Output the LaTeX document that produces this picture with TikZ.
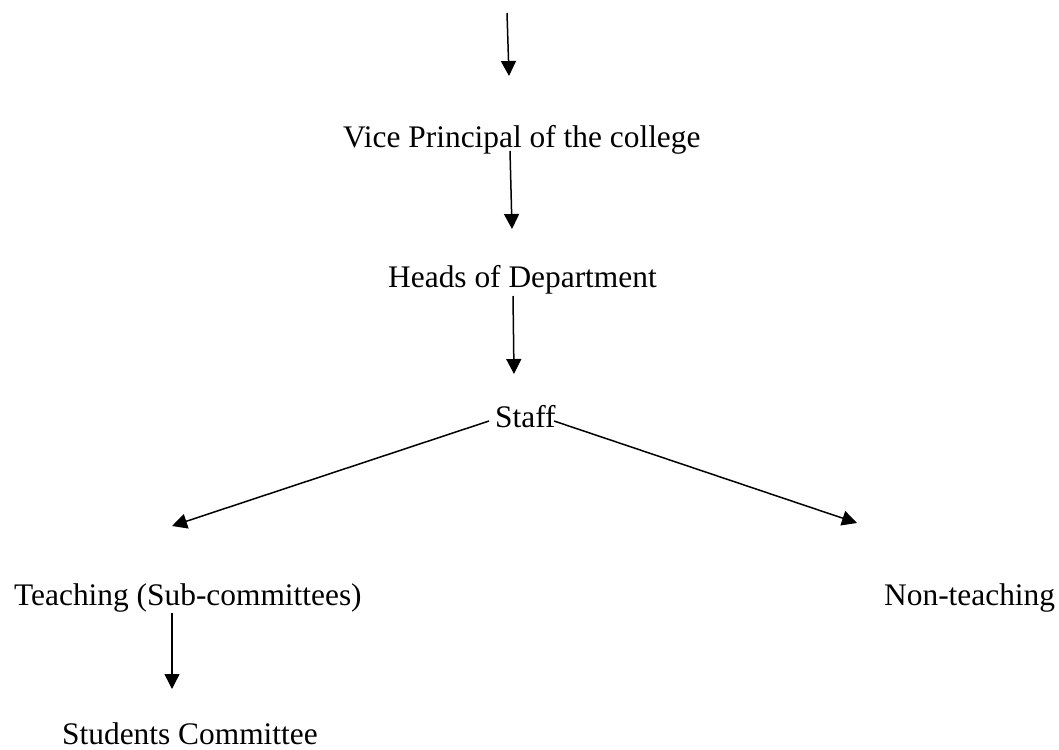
\documentclass[tikz,border=0pt]{standalone}
\usepackage{fontspec}
\setmainfont{Liberation Serif}
\usetikzlibrary{arrows.meta}
\begin{document}
\begin{tikzpicture}[x=1pt,y=-1pt,
  lbl/.style={inner sep=0pt, anchor=base west, font=\fontsize{31.4}{36}\selectfont},
  arr/.style={-{Triangle[length=15pt,width=15pt]}, line width=1.5pt}]
\useasboundingbox (0,0) rectangle (1059,749);
\node[lbl] (vice) at (343,147) {Vice Principal of the college};
\node[lbl] (heads) at (388,287) {Heads of Department};
\node[lbl] (staff) at (495,427) {Staff};
\node[lbl] (teach) at (14,605) {Teaching (Sub-committees)};
\node[lbl] (nont) at (884,605) {Non-teaching};
\node[lbl] (stud) at (62,744) {Students Committee};
% connector ends
\coordinate (topA) at (507,13);
\coordinate (topB) at (509,76);
\coordinate (viceOut) at (510,151);
\coordinate (headsIn) at (512,229);
\coordinate (headsOut) at (513,296);
\coordinate (staffIn) at (514,374);
\coordinate (staffL) at (489,421);
\coordinate (teachIn) at (172,526);
\coordinate (staffR) at (554,421);
\coordinate (nontIn) at (857,523);
\coordinate (teachOut) at (172,613);
\coordinate (studIn) at (172,689);
\draw[arr] (topA) -- (topB);
\draw[arr] (viceOut) -- (headsIn);
\draw[arr] (headsOut) -- (staffIn);
\draw[arr] (staffL) -- (teachIn);
\draw[arr] (staffR) -- (nontIn);
\draw[arr] (teachOut) -- (studIn);
\end{tikzpicture}
\end{document}
